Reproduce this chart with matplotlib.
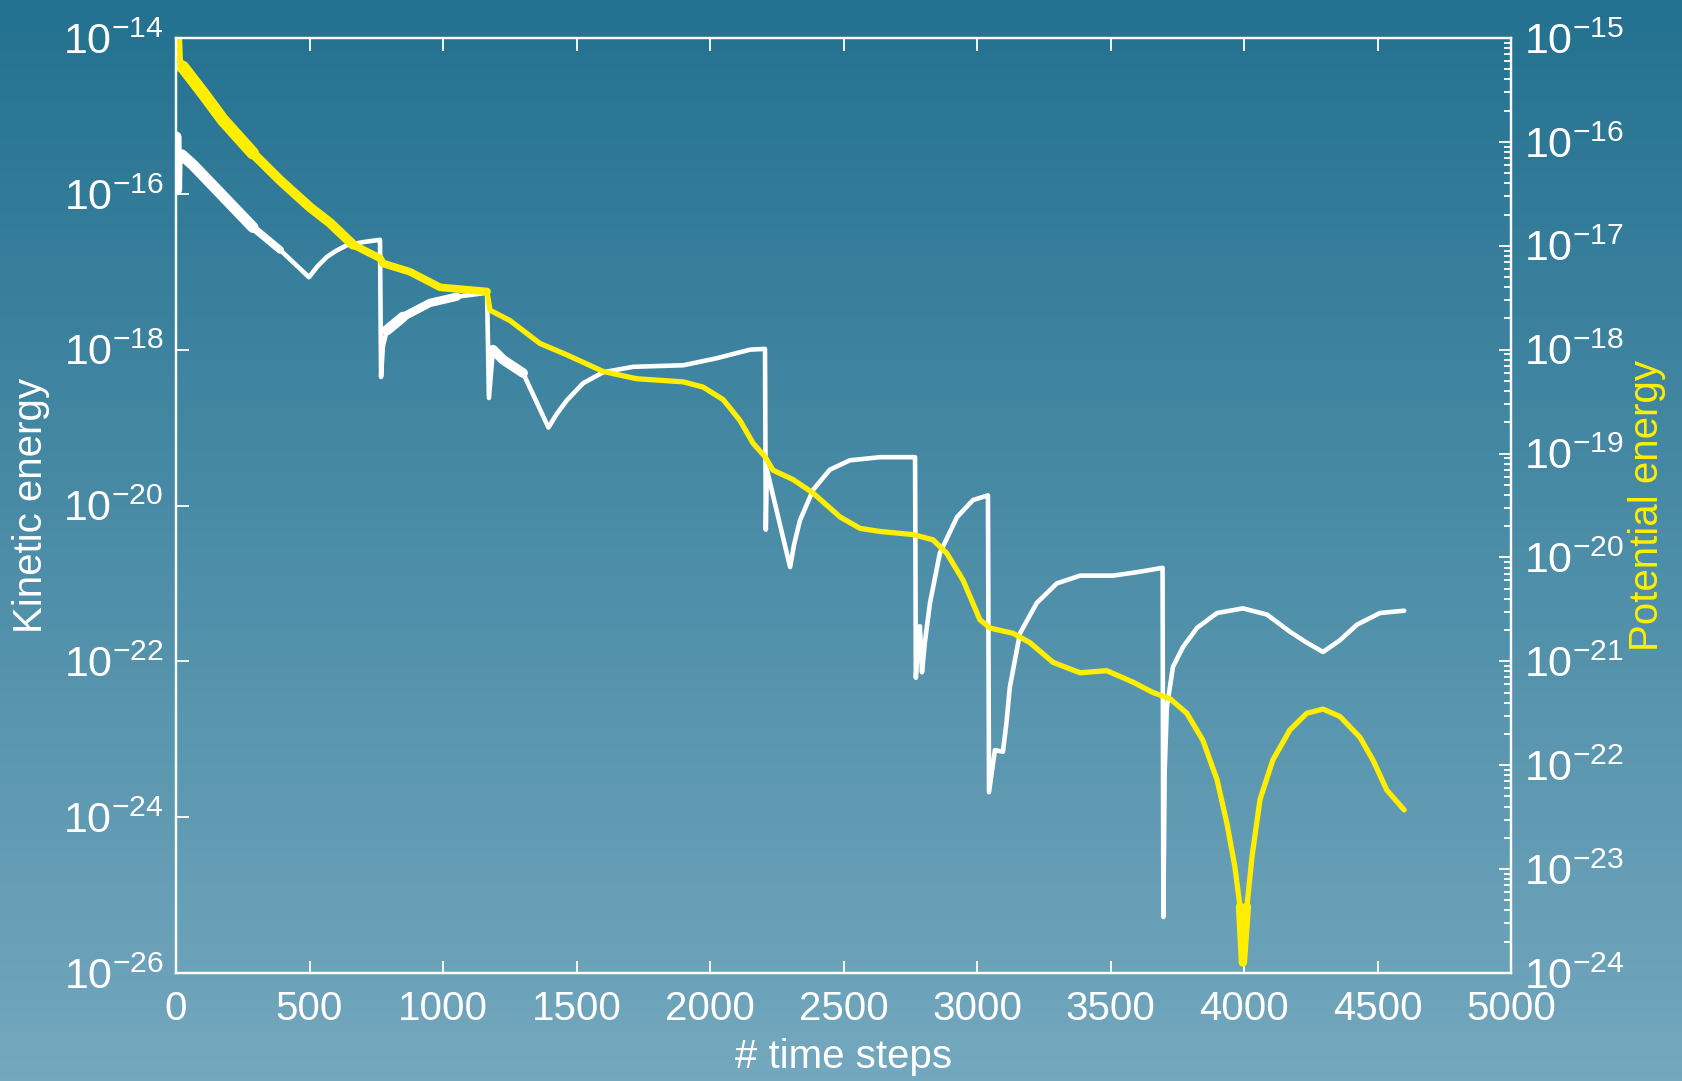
import numpy as np
import matplotlib
matplotlib.use("Agg")
import matplotlib.pyplot as plt
from matplotlib.ticker import FixedLocator, NullLocator, NullFormatter
from matplotlib.colors import LinearSegmentedColormap

plt.rcParams["font.family"] = ["Liberation Sans", "DejaVu Sans"]
plt.rcParams["mathtext.fontset"] = "custom"
plt.rcParams["mathtext.rm"] = "Liberation Sans"
plt.rcParams["mathtext.it"] = "Liberation Sans"
plt.rcParams["mathtext.default"] = "regular"

# kinetic energy (left axis) as (step, log10 E)
kin_steps = [0, 2, 4, 22, 64, 165, 288, 390, 498,
             530, 565, 600, 640, 700, 764,
             768, 775, 790, 850, 951, 1052, 1165,
             1172, 1187, 1225, 1300, 1395,
             1425, 1464, 1525, 1600, 1712, 1900, 2025, 2150, 2206,
             2209, 2213, 2300, 2315, 2337, 2386, 2449, 2524, 2637, 2768,
             2771, 2780, 2786, 2794, 2805, 2824, 2861, 2925, 2985, 3041,
             3045, 3067, 3097, 3110, 3123, 3161, 3224, 3299, 3386, 3510, 3610, 3695,
             3698, 3703, 3711, 3734, 3771, 3824, 3899, 3996, 4086, 4172, 4235, 4296,
             4359, 4423, 4509, 4600]
kin_log = [-15.27, -15.95, -15.55, -15.50, -15.63, -15.99, -16.43, -16.72, -17.07,
           -16.93, -16.81, -16.73, -16.66, -16.62, -16.59,
           -18.35, -17.95, -17.75, -17.58, -17.40, -17.32, -17.27,
           -18.62, -18.00, -18.13, -18.30, -19.00,
           -18.83, -18.65, -18.43, -18.29, -18.22, -18.20, -18.11, -18.00, -17.99,
           -20.31, -19.54, -20.79, -20.50, -20.19, -19.80, -19.54, -19.42, -19.38, -19.38,
           -22.21, -21.73, -21.55, -22.14, -21.75, -21.25, -20.61, -20.15, -19.93, -19.87,
           -23.68, -23.14, -23.16, -22.80, -22.33, -21.64, -21.25, -21.00, -20.90, -20.90,
           -20.85, -20.80,
           -25.28, -23.40, -22.59, -22.07, -21.82, -21.57, -21.38, -21.32, -21.40, -21.62,
           -21.76, -21.88, -21.73, -21.53, -21.38, -21.35]

# potential energy (right axis)
pot_steps = [0, 3, 26, 101, 176, 288, 390, 502, 577, 663, 764, 775, 876, 989, 1165,
             1176, 1251, 1363, 1464, 1600, 1726, 1900, 1974, 2049, 2112, 2161, 2206,
             2236, 2311, 2386, 2487, 2562, 2637, 2761, 2835, 2887, 2948, 3011, 3049,
             3135, 3198, 3285, 3386, 3486, 3584, 3659, 3723, 3786, 3846, 3899, 3936,
             3966, 3985, 3996, 4011, 4030, 4060, 4108, 4172, 4235, 4296, 4359, 4434,
             4483, 4535, 4600]
pot_log = [-15.02, -15.25, -15.28, -15.53, -15.79, -16.11, -16.37, -16.63, -16.78, -16.99,
           -17.12, -17.17, -17.25, -17.40, -17.44,
           -17.62, -17.72, -17.94, -18.05, -18.21, -18.28, -18.31, -18.36, -18.48, -18.68,
           -18.90, -19.03, -19.16, -19.25, -19.38, -19.61, -19.72, -19.75, -19.78, -19.83,
           -19.96, -20.22, -20.60, -20.68, -20.73, -20.82, -21.01, -21.11, -21.09, -21.20,
           -21.30, -21.36, -21.50, -21.76, -22.14, -22.56, -22.98, -23.36, -23.90, -23.36,
           -22.88, -22.33, -21.95, -21.66, -21.50, -21.46, -21.53, -21.73, -21.95, -22.24,
           -22.43]

kin_steps = np.array(kin_steps)
kin = 10.0 ** np.array(kin_log)
pot_steps = np.array(pot_steps)
pot = 10.0 ** np.array(pot_log)

fig = plt.figure(figsize=(16.82, 10.81), dpi=100)

# gradient background
bg = fig.add_axes([0, 0, 1, 1], zorder=-10)
cmap = LinearSegmentedColormap.from_list("bg", ["#237190", "#74a8be"])
bg.imshow(np.linspace(0, 1, 256).reshape(-1, 1), aspect="auto", cmap=cmap, extent=[0, 1, 0, 1])
bg.set_axis_off()

ax = fig.add_axes([176 / 1682, 108 / 1081, 1335 / 1682, 935 / 1081])
ax.set_facecolor("none")
ax2 = ax.twinx()

white = "white"
yellow = "#ffee00"
line_kw = dict(solid_capstyle="round", solid_joinstyle="round")

# the noisy early stretches look like thick bands, tapering off
ax.plot(kin_steps, kin, color=white, lw=3.3, **line_kw)
for lo, hi, w in [(0, 450, 5.5), (0, 300, 8), (790, 1100, 6), (790, 950, 7.5), (1187, 1300, 7)]:
    m = (kin_steps >= lo) & (kin_steps <= hi)
    ax.plot(kin_steps[m], kin[m], color=white, lw=w, **line_kw)

ax2.plot(pot_steps, pot, color=yellow, lw=3.8, **line_kw)
for lo, hi, w in [(0, 1165, 5.5), (0, 700, 7), (0, 350, 9), (3985, 4011, 6)]:
    m = (pot_steps >= lo) & (pot_steps <= hi)
    ax2.plot(pot_steps[m], pot[m], color=yellow, lw=w, **line_kw)

ax.set_xlim(0, 5000)
ax.set_yscale("log")
ax.set_ylim(1e-26, 1e-14)
ax.set_yticks([10.0 ** e for e in range(-26, -13, 2)])
ax.yaxis.set_minor_locator(NullLocator())
ax.set_xticks(range(0, 5001, 500))

ax2.set_yscale("log")
ax2.set_ylim(1e-24, 1e-15)
ax2.set_yticks([10.0 ** e for e in range(-24, -14)])
minors = [k * 10.0 ** e for e in range(-24, -15) for k in range(2, 10)]
ax2.yaxis.set_minor_locator(FixedLocator(minors))
ax2.yaxis.set_minor_formatter(NullFormatter())

for a in (ax, ax2):
    for s in a.spines.values():
        s.set_color(white)
        s.set_linewidth(1.6)

ax.tick_params(axis="both", which="major", direction="in", length=9, width=1.3,
               colors=white, top=True, right=False)
ax.tick_params(axis="y", pad=9, labelsize=31)
ax.tick_params(axis="x", pad=12, labelsize=29)
ax2.tick_params(axis="y", which="major", direction="in", length=9, width=1.3,
                colors=white, labelsize=31, pad=9)
ax2.tick_params(axis="y", which="minor", direction="in", length=5, width=1.3, colors=white)

ax.set_xlabel("# time steps", color=white, fontsize=29)
ax.set_ylabel("Kinetic energy", color=white, fontsize=29)
ax2.set_ylabel("Potential energy", color=yellow, fontsize=29)
ax.xaxis.set_label_coords(0.5, -0.0695)
ax.yaxis.set_label_coords(-0.0944, 0.5)
ax2.yaxis.set_label_coords(1.0876, 0.5)

fig.savefig("out.png", dpi=100)
